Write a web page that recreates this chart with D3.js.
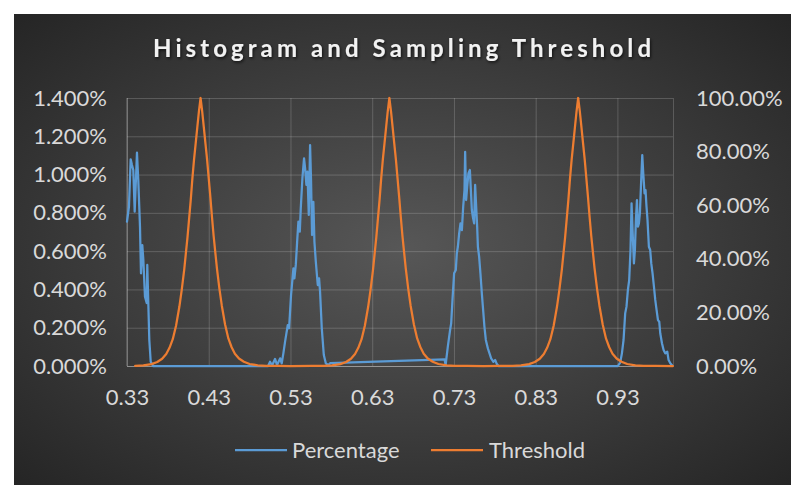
<!DOCTYPE html>
<html>
<head>
<meta charset="utf-8">
<script src="https://cdn.jsdelivr.net/npm/d3@7"></script>
<style>
  html, body { margin: 0; padding: 0; background: #ffffff; }
  svg { display: block; }
  text { font-family: "Lato", "Open Sans", sans-serif; }
</style>
</head>
<body>
<svg id="chart" width="798" height="485"></svg>
<script>
// ---- data ----
const titleText = "Histogram and Sampling Threshold";
const xTicks = [0.33, 0.43, 0.53, 0.63, 0.73, 0.83, 0.93];
const leftTicks = [0, 0.2, 0.4, 0.6, 0.8, 1.0, 1.2, 1.4];   // Percentage axis (%)
const rightTicks = [0, 20, 40, 60, 80, 100];                 // Threshold axis (%)
const seriesNames = ["Percentage", "Threshold"];

// Percentage histogram (x, value in %)
const pctX = [
  0.3300, 0.3324, 0.3345, 0.3361, 0.3377, 0.3394, 0.3422, 0.3438, 0.3459, 0.3471,
  0.3487, 0.3500, 0.3520, 0.3541, 0.3548, 0.3573, 0.3590, 0.3606, 0.3618,
  0.5026, 0.5050, 0.5075, 0.5111, 0.5136, 0.5173, 0.5193, 0.5213, 0.5234, 0.5267,
  0.5283, 0.5307, 0.5336, 0.5348, 0.5365, 0.5384, 0.5397, 0.5414, 0.5426, 0.5446,
  0.5466, 0.5479, 0.5495, 0.5507, 0.5524, 0.5540, 0.5552, 0.5564, 0.5580, 0.5593,
  0.5610, 0.5634, 0.5650, 0.5662, 0.5683, 0.5708, 0.5732, 0.5764, 0.5785,
  0.7186, 0.7198,
  0.7225, 0.7253, 0.7266, 0.7282, 0.7302, 0.7323, 0.7335, 0.7348, 0.7364, 0.7380,
  0.7397, 0.7413, 0.7429, 0.7437, 0.7449, 0.7462, 0.7478, 0.7495, 0.7507, 0.7519,
  0.7531, 0.7547, 0.7559, 0.7572, 0.7584, 0.7593, 0.7608, 0.7624, 0.7641, 0.7657,
  0.7673, 0.7690, 0.7715, 0.7735, 0.7755, 0.7783, 0.7804, 0.7825, 0.7845,
  0.9306, 0.9334, 0.9355, 0.9375, 0.9395, 0.9411, 0.9428, 0.9444, 0.9460, 0.9473,
  0.9485, 0.9502, 0.9514, 0.9526, 0.9539, 0.9551, 0.9563, 0.9575, 0.9591, 0.9604,
  0.9616, 0.9632, 0.9644, 0.9656, 0.9668, 0.9685, 0.9701, 0.9714, 0.9730, 0.9747,
  0.9763, 0.9779, 0.9796, 0.9812, 0.9824, 0.9845, 0.9865, 0.9885, 0.9910, 0.9926,
  0.9947, 0.9968
];
const pctY = [
  0.754, 0.832, 1.080, 1.050, 1.024, 0.806, 1.114, 0.972, 0.728, 0.484,
  0.632, 0.554, 0.362, 0.329, 0.528, 0.136, 0.022, 0.010, 0.000,
  0.000, 0.022, 0.003, 0.037, 0.005, 0.040, 0.014, 0.066, 0.127, 0.214,
  0.197, 0.371, 0.510, 0.458, 0.528, 0.667, 0.754, 0.702, 0.824, 0.981,
  1.085, 1.033, 0.946, 1.015, 0.789, 1.154, 0.963, 0.684, 0.858, 0.649,
  0.545, 0.423, 0.458, 0.388, 0.197, 0.057, 0.014, 0.005, 0.015,
  0.034, 0.005,
  0.101, 0.188, 0.223, 0.345, 0.484, 0.502, 0.589, 0.623, 0.693, 0.745,
  0.710, 0.832, 0.919, 1.119, 0.867, 0.937, 1.007, 1.024, 0.919, 0.815,
  0.780, 0.745, 0.946, 0.832, 0.728, 0.623, 0.571, 0.484, 0.380, 0.293,
  0.205, 0.136, 0.092, 0.066, 0.040, 0.022, 0.031, 0.010, 0.000,
  0.000, 0.018, 0.066, 0.136, 0.275, 0.310, 0.397, 0.449, 0.606, 0.850,
  0.710, 0.536, 0.606, 0.763, 0.867, 0.728, 0.745, 0.798, 0.972, 1.102,
  1.007, 0.902, 0.919, 0.832, 0.763, 0.623, 0.606, 0.536, 0.484, 0.414,
  0.345, 0.293, 0.240, 0.231, 0.171, 0.119, 0.084, 0.066, 0.075, 0.031,
  0.014, 0.004
];

// Sampling threshold (x, value in %)
const thrX = [
  0.340, 0.350, 0.360, 0.367, 0.373, 0.378, 0.382, 0.386, 0.390, 0.394,
  0.397, 0.400, 0.402, 0.404, 0.406, 0.408, 0.410, 0.412, 0.414, 0.416,
  0.418, 0.420, 0.422, 0.424, 0.426, 0.428, 0.430, 0.432, 0.434, 0.436,
  0.438, 0.440, 0.443, 0.446, 0.450, 0.454, 0.458, 0.462, 0.467, 0.473,
  0.480, 0.490, 0.500, 0.515, 0.530,
  0.556, 0.571, 0.581, 0.591, 0.598, 0.604, 0.609, 0.613, 0.617, 0.621,
  0.625, 0.628, 0.631, 0.633, 0.635, 0.637, 0.639, 0.641, 0.643, 0.645,
  0.647, 0.649, 0.651, 0.653, 0.655, 0.657, 0.659, 0.661, 0.663, 0.665,
  0.667, 0.669, 0.671, 0.674, 0.677, 0.681, 0.685, 0.689, 0.693, 0.698,
  0.704, 0.711, 0.721, 0.731, 0.746, 0.766,
  0.787, 0.802, 0.812, 0.822, 0.829, 0.835, 0.840, 0.844, 0.848, 0.852,
  0.856, 0.859, 0.862, 0.864, 0.866, 0.868, 0.870, 0.872, 0.874, 0.876,
  0.878, 0.880, 0.882, 0.884, 0.886, 0.888, 0.890, 0.892, 0.894, 0.896,
  0.898, 0.900, 0.902, 0.905, 0.908, 0.912, 0.916, 0.920, 0.924, 0.929,
  0.935, 0.942, 0.952, 0.962, 0.977, 0.998
];
const thrY = [
  0.08, 0.25, 0.7, 1.5, 2.7, 4.5, 6.8, 10, 15, 22,
  28.5, 36, 42, 48, 55, 62, 70, 77, 83, 89,
  95, 100, 95, 89, 83, 77, 70, 63, 55.5, 48.5,
  42.5, 36.5, 29, 22.5, 15.5, 10.3, 7, 4.6, 2.8, 1.6,
  0.75, 0.27, 0.09, 0.02, 0,
  0.02, 0.08, 0.25, 0.7, 1.5, 2.7, 4.5, 6.8, 10, 15,
  22, 28.5, 36, 42, 48, 55, 62, 70, 77, 83,
  89, 95, 100, 95, 89, 83, 77, 70, 63, 55.5,
  48.5, 42.5, 36.5, 29, 22.5, 15.5, 10.3, 7, 4.6, 2.8,
  1.6, 0.75, 0.27, 0.09, 0.02, 0,
  0.02, 0.08, 0.25, 0.7, 1.5, 2.7, 4.5, 6.8, 10, 15,
  22, 28.5, 36, 42, 48, 55, 62, 70, 77, 83,
  89, 95, 100, 95, 89, 83, 77, 70, 63, 55.5,
  48.5, 42.5, 36.5, 29, 22.5, 15.5, 10.3, 7, 4.6, 2.8,
  1.6, 0.75, 0.27, 0.09, 0.02, 0
];

// ---- layout ----
const svg = d3.select("#chart");
const plot = { left: 127, right: 673, top: 98, bottom: 366 };
const colors = { pct: "#5B9BD5", thr: "#ED7D31", text: "#d9d9d9", grid: "rgba(255,255,255,0.18)", axis: "rgba(255,255,255,0.32)" };

const x = d3.scaleLinear().domain([0.33, 0.998]).range([plot.left, plot.right]);
const yL = d3.scaleLinear().domain([0, 1.4]).range([plot.bottom, plot.top]);
const yR = d3.scaleLinear().domain([0, 100]).range([plot.bottom, plot.top]);

// background panel with radial shading
const defs = svg.append("defs");
const rg = defs.append("radialGradient").attr("id", "bg")
  .attr("cx", "50%").attr("cy", "50%").attr("r", "72%");
rg.append("stop").attr("offset", "0%").attr("stop-color", "#575757");
rg.append("stop").attr("offset", "100%").attr("stop-color", "#242424");
const sh = defs.append("filter").attr("id", "titleShadow")
  .attr("x", "-10%").attr("y", "-40%").attr("width", "120%").attr("height", "180%");
sh.append("feDropShadow").attr("dx", 1).attr("dy", 1.5).attr("stdDeviation", 1.4)
  .attr("flood-color", "#000").attr("flood-opacity", 0.7);

svg.append("rect").attr("x", 14).attr("y", 14).attr("width", 777).attr("height", 471)
  .attr("fill", "url(#bg)");

// title
svg.append("text")
  .attr("x", 402).attr("y", 57)
  .attr("text-anchor", "middle")
  .attr("textLength", 498).attr("lengthAdjust", "spacing")
  .style("font-size", "24px").style("font-weight", 700)
  .attr("fill", "#f2f2f2")
  .attr("filter", "url(#titleShadow)")
  .text(titleText);

// gridlines
const gridY = svg.append("g").attr("transform", `translate(${plot.left},0)`)
  .call(d3.axisLeft(yL).tickValues(leftTicks).tickSize(-(plot.right - plot.left)).tickFormat(""));
gridY.select(".domain").remove();
gridY.selectAll("line").attr("stroke", colors.grid);

const gridX = svg.append("g").attr("transform", `translate(0,${plot.bottom})`)
  .call(d3.axisBottom(x).tickValues(xTicks.concat([0.998])).tickSize(-(plot.bottom - plot.top)).tickFormat(""));
gridX.select(".domain").remove();
gridX.selectAll("line").attr("stroke", colors.grid);

// axis lines
svg.append("line").attr("x1", plot.left).attr("x2", plot.right)
  .attr("y1", plot.bottom + 0.5).attr("y2", plot.bottom + 0.5).attr("stroke", colors.axis);
svg.append("line").attr("x1", plot.left).attr("x2", plot.left)
  .attr("y1", plot.top).attr("y2", plot.bottom).attr("stroke", colors.axis);

// tick labels
const fs = "22px";
const axL = svg.append("g").attr("transform", `translate(${plot.left},0)`)
  .call(d3.axisLeft(yL).tickValues(leftTicks).tickSize(0).tickPadding(20)
    .tickFormat(d => d.toFixed(3) + "%"));
const axR = svg.append("g").attr("transform", `translate(${plot.right},0)`)
  .call(d3.axisRight(yR).tickValues(rightTicks).tickSize(0).tickPadding(23)
    .tickFormat(d => d.toFixed(2) + "%"));
const axB = svg.append("g").attr("transform", `translate(0,${plot.bottom})`)
  .call(d3.axisBottom(x).tickValues(xTicks).tickSize(0).tickPadding(23)
    .tickFormat(d => d.toFixed(2)));
[axL, axR, axB].forEach(g => {
  g.select(".domain").remove();
  g.selectAll("text").attr("fill", colors.text)
    .style("font-size", fs).style("font-family", "Lato, 'Open Sans', sans-serif");
});

// series
const pctData = pctX.map((v, i) => [v, pctY[i]]);
const thrData = thrX.map((v, i) => [v, thrY[i]]);

svg.append("path").datum(pctData)
  .attr("fill", "none").attr("stroke", colors.pct).attr("stroke-width", 2.25)
  .attr("stroke-linejoin", "round").attr("stroke-linecap", "round")
  .attr("d", d3.line().x(d => x(d[0])).y(d => yL(d[1])));

svg.append("path").datum(thrData)
  .attr("fill", "none").attr("stroke", colors.thr).attr("stroke-width", 2.25)
  .attr("stroke-linejoin", "round").attr("stroke-linecap", "round")
  .attr("d", d3.line().x(d => x(d[0])).y(d => yR(d[1])));

// legend
const legend = svg.append("g");
const legendItems = [
  { name: seriesNames[0], color: colors.pct, x0: 235, tx: 292 },
  { name: seriesNames[1], color: colors.thr, x0: 431, tx: 489 }
];
legendItems.forEach(it => {
  legend.append("line").attr("x1", it.x0).attr("x2", it.x0 + 52)
    .attr("y1", 450).attr("y2", 450).attr("stroke", it.color).attr("stroke-width", 2.25);
  legend.append("text").attr("x", it.tx).attr("y", 458)
    .attr("fill", colors.text).style("font-size", fs).text(it.name);
});
</script>
</body>
</html>
